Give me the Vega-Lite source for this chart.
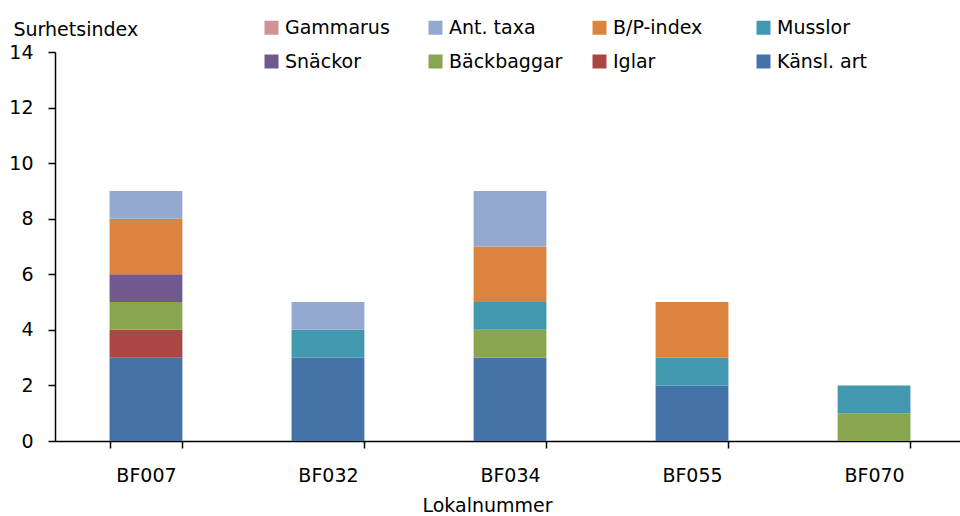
{
  "$schema": "https://vega.github.io/schema/vega-lite/v6.json",
  "width": 905,
  "height": 389,
  "autosize": {"type": "none"},
  "padding": {"left": 55, "top": 52, "right": 0, "bottom": 75},
  "config": {
    "view": {"stroke": null},
    "font": "DejaVu Sans",
    "legend": {"labelFont": "DejaVu Sans", "labelFontSize": 19, "labelColor": "#000000"}
  },
  "data": {
    "values": [
      {"lokal": "BF007", "serie": "Känsl. art", "v": 3},
      {"lokal": "BF007", "serie": "Iglar", "v": 1},
      {"lokal": "BF007", "serie": "Bäckbaggar", "v": 1},
      {"lokal": "BF007", "serie": "Snäckor", "v": 1},
      {"lokal": "BF007", "serie": "B/P-index", "v": 2},
      {"lokal": "BF007", "serie": "Ant. taxa", "v": 1},
      {"lokal": "BF032", "serie": "Känsl. art", "v": 3},
      {"lokal": "BF032", "serie": "Musslor", "v": 1},
      {"lokal": "BF032", "serie": "Ant. taxa", "v": 1},
      {"lokal": "BF034", "serie": "Känsl. art", "v": 3},
      {"lokal": "BF034", "serie": "Bäckbaggar", "v": 1},
      {"lokal": "BF034", "serie": "Musslor", "v": 1},
      {"lokal": "BF034", "serie": "B/P-index", "v": 2},
      {"lokal": "BF034", "serie": "Ant. taxa", "v": 2},
      {"lokal": "BF055", "serie": "Känsl. art", "v": 2},
      {"lokal": "BF055", "serie": "Musslor", "v": 1},
      {"lokal": "BF055", "serie": "B/P-index", "v": 2},
      {"lokal": "BF070", "serie": "Bäckbaggar", "v": 1},
      {"lokal": "BF070", "serie": "Musslor", "v": 1}
    ]
  },
  "transform": [
    {"calculate": "indexof(['Känsl. art','Iglar','Bäckbaggar','Snäckor','Musslor','B/P-index','Ant. taxa','Gammarus'], datum.serie)", "as": "ord"}
  ],
  "mark": {"type": "bar"},
  "encoding": {
    "x": {
      "field": "lokal", "type": "nominal", "sort": null,
      "scale": {"paddingInner": 0.6, "paddingOuter": 0.286, "align": 0.524},
      "axis": {
        "title": "Lokalnummer", "labelAngle": 0, "tickBand": "extent", "ticks": true, "tickSize": 7,
        "domainColor": "#000000", "tickColor": "#000000", "labelColor": "#000000", "titleColor": "#000000",
        "labelFontSize": 19, "titleFontSize": 19, "titleFontWeight": "normal", "labelFont": "DejaVu Sans", "titleFont": "DejaVu Sans",
        "domainWidth": 1.5, "tickWidth": 1.5, "labelPadding": 18, "grid": false,
        "titleX": 432, "titleY": 70, "titleAlign": "center", "titleBaseline": "alphabetic"
      }
    },
    "y": {
      "field": "v", "type": "quantitative", "stack": "zero",
      "scale": {"domain": [0, 14], "nice": false},
      "axis": {
        "title": "Surhetsindex", "values": [0, 2, 4, 6, 8, 10, 12, 14], "ticks": true, "tickSize": 7,
        "domainColor": "#000000", "tickColor": "#000000", "labelColor": "#000000", "titleColor": "#000000",
        "labelFontSize": 19, "titleFontSize": 19, "titleFontWeight": "normal", "labelFont": "DejaVu Sans", "titleFont": "DejaVu Sans",
        "domainWidth": 1.5, "tickWidth": 1.5, "labelPadding": 15, "grid": false,
        "titleAngle": 0, "titleX": -42, "titleY": -17, "titleAlign": "left", "titleBaseline": "alphabetic"
      }
    },
    "color": {
      "field": "serie", "type": "nominal",
      "scale": {
        "domain": ["Gammarus", "Ant. taxa", "B/P-index", "Musslor", "Snäckor", "Bäckbaggar", "Iglar", "Känsl. art"],
        "range": ["#D19392", "#93A9CF", "#DB843D", "#4198AF", "#71588F", "#89A54E", "#AA4643", "#4572A7"]
      },
      "legend": {
        "title": null, "orient": "none", "legendX": 207, "legendY": -34, "direction": "horizontal",
        "columns": 4, "gridAlign": "all", "columnPadding": 27, "rowPadding": 14,
        "symbolType": "square", "symbolSize": 196, "symbolStrokeWidth": 0, "symbolOpacity": 1, "labelOffset": 4
      }
    },
    "order": {"field": "ord", "type": "quantitative"}
  }
}
